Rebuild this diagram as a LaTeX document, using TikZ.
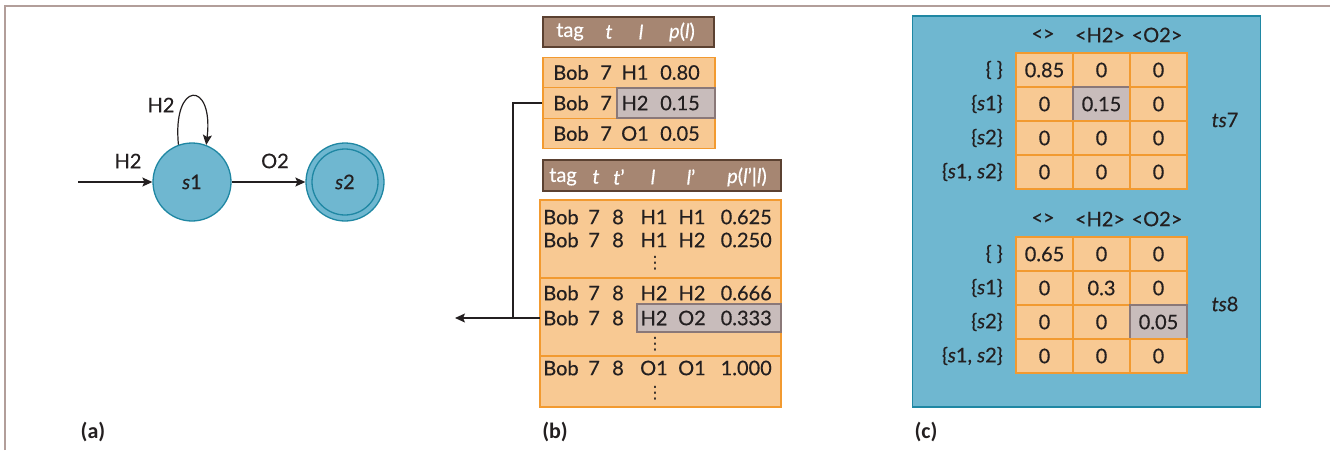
\documentclass[tikz,border=0pt]{standalone}
\usepackage{fontspec}
\setmainfont{Lato}[FakeBold=0.35]
\newfontfamily\labfont{Carlito}
\newfontfamily\dotfont{DejaVu Sans}
\usetikzlibrary{arrows.meta}
\definecolor{stblue}{HTML}{6FB7D0}
\definecolor{stborder}{HTML}{1F87A3}
\definecolor{ofill}{HTML}{F8C993}
\definecolor{oborder}{HTML}{F29A30}
\definecolor{hlfill}{HTML}{C8BCBB}
\definecolor{hlborder}{HTML}{8A7878}
\definecolor{bfill}{HTML}{A68672}
\definecolor{bborder}{HTML}{5B4131}
\definecolor{txt}{HTML}{231F20}
\definecolor{framec}{HTML}{B29E9A}
\begin{document}
\begin{tikzpicture}[x=1pt,y=-1pt,
  every node/.style={text=txt},
  font=\fontsize{20}{22}\selectfont,
  state/.style={circle, minimum size=78pt, inner sep=0pt, fill=stblue, draw=stborder, line width=1.3pt},
  arr/.style={draw=txt, line width=1.2pt, -{Stealth[length=10pt,width=9pt,inset=2pt]}},
  plain/.style={draw=txt, line width=1.2pt},
  hdr/.style={rectangle, fill=bfill, draw=bborder, line width=1.3pt, inner sep=0pt},
  hdrtxt/.style={text=white, inner sep=0pt},
  obox/.style={rectangle, fill=ofill, draw=oborder, line width=1.3pt, inner sep=0pt},
  hlbox/.style={rectangle, fill=hlfill, draw=hlborder, line width=1.3pt, inner sep=0pt},
  bluebox/.style={rectangle, fill=stblue, draw=stborder, line width=1.5pt, inner sep=0pt},
  cell/.style={obox, minimum width=57pt, minimum height=34pt},
  tx/.style={inner sep=0pt},
  vdot/.style={inner sep=0pt, font=\dotfont\fontsize{17}{17}\selectfont},
  sublabel/.style={inner sep=0pt, font=\labfont\bfseries\fontsize{22}{24}\selectfont}
]
\useasboundingbox (0,0) rectangle (1330,450);
% frame
\draw[framec, line width=1.5pt] (5,450) -- (5,6) -- (1330,6);

% ---------- (a) ----------
\node[state] (s1) at (192,182) {\textit{s}1};
\node[state] (s2) at (345,182) {\textit{s}2};
\draw[stborder, line width=1.3pt] (s2.center) circle[radius=33pt];
\coordinate (init) at (78,182);
\draw[arr] (init) -- (s1);
\node[tx] (lh2a) at (128,161) {H2};
\draw[arr] (s1) -- (s2);
\node[tx] (lo2) at (275,161) {O2};
\draw[arr] (s1.110) .. controls (172,80) and (214,80) .. (s1.69);
\node[tx] (lh2b) at (161,105) {H2};
\node[sublabel] (la) at (93,432) {(a)};

% ---------- (b) ----------
\node[hdr, minimum width=171pt, minimum height=30pt] (h1) at (628.5,32) {};
\node[hdrtxt] (h1a) at (570,32) {tag};
\node[hdrtxt] (h1b) at (609,32) {\textit{t}};
\node[hdrtxt] (h1c) at (641,32) {\textit{l}};
\node[hdrtxt] (h1d) at (682,32) {\textit{p}(\textit{l})};

\node[obox, minimum width=172pt, minimum height=30.5pt] (t1r1) at (629,72.5) {};
\node[obox, minimum width=172pt, minimum height=30.5pt] (t1r2) at (629,103) {};
\node[obox, minimum width=172pt, minimum height=30.5pt] (t1r3) at (629,133.5) {};
\node[hlbox, minimum width=98pt, minimum height=30pt] (t1hl) at (666,103) {};
\foreach \y/\l/\p [count=\i] in {72.5/H1/0.80, 103/H2/0.15, 133.5/O1/0.05}{
  \node[tx] (t1b\i) at (571,\y) {Bob};
  \node[tx] (t1t\i) at (606,\y) {7};
  \node[tx] (t1l\i) at (635,\y) {\l};
  \node[tx] (t1p\i) at (680,\y) {\p};
}

\node[hdr, minimum width=238pt, minimum height=31pt] (h2) at (662,175.5) {};
\node[hdrtxt] (h2a) at (563,177) {tag};
\node[hdrtxt] (h2b) at (596,177) {\textit{t}};
\node[hdrtxt] (h2c) at (619,177) {\textit{t}'};
\node[hdrtxt] (h2d) at (653,177) {\textit{l}};
\node[hdrtxt] (h2e) at (691,177) {\textit{l}'};
\node[hdrtxt] (h2f) at (747,177) {\textit{p}(\textit{l}'|\textit{l})};

\node[obox, minimum width=241pt, minimum height=78pt] (t2a) at (660.5,239) {};
\node[obox, minimum width=241pt, minimum height=78pt] (t2b) at (660.5,317) {};
\node[obox, minimum width=241pt, minimum height=51pt] (t2c) at (660.5,381.5) {};
\node[hlbox, minimum width=144pt, minimum height=28pt] (t2hl) at (709,318) {};
\foreach \y/\l/\m/\p [count=\i] in {217/H1/H1/0.625, 240/H1/H2/0.250, 293/H2/H2/0.666, 318/H2/O2/0.333, 368/O1/O1/1.000}{
  \node[tx] (t2b\i) at (561,\y) {Bob};
  \node[tx] (t2t\i) at (594,\y) {7};
  \node[tx] (t2u\i) at (618,\y) {8};
  \node[tx] (t2l\i) at (654,\y) {\l};
  \node[tx] (t2m\i) at (692,\y) {\m};
  \node[tx, anchor=east] (t2p\i) at (772,\y) {\p};
}
\foreach \y [count=\i] in {263,344,393}{
  \node[vdot] (dots\i) at (655,\y) {⋮};
}
\coordinate (j1) at (513,103);
\coordinate (j2) at (513,318);
\coordinate (t2row) at (540,318);
\coordinate (tip) at (455,318);
\draw[plain] (t1r2.west) -- (j1) -- (j2);
\draw[arr] (t2row) -- (tip);
\node[sublabel] (lb) at (555,432) {(b)};

% ---------- (c) ----------
\node[bluebox, minimum width=348pt, minimum height=391pt] (cbox) at (1086.5,211.5) {};
\foreach \top/\ts/\vals/\hr/\hc in {53/7/{0.85,0,0,0,0.15,0,0,0,0,0,0,0}/2/2, 237/8/{0.65,0,0,0,0.3,0,0,0,0.05,0,0,0}/3/3}{
  \node[tx] (hd\ts a) at (1043,\top-18) {<>};
  \node[tx] (hd\ts b) at (1100,\top-18) {<H2>};
  \node[tx] (hd\ts c) at (1157,\top-18) {<O2>};
  \foreach \v [count=\k from 0] in \vals {
    \pgfmathtruncatemacro{\r}{div(\k,3)+1}
    \pgfmathtruncatemacro{\c}{mod(\k,3)+1}
    \ifnum\r=\hr\relax\ifnum\c=\hc\relax
      \node[hlbox, minimum width=57pt, minimum height=34pt] (c\ts-\r-\c) at (1016+57*\c-28.5,\top+34*\r-17) {\v};
    \else
      \node[cell] (c\ts-\r-\c) at (1016+57*\c-28.5,\top+34*\r-17) {\v};
    \fi
    \else
      \node[cell] (c\ts-\r-\c) at (1016+57*\c-28.5,\top+34*\r-17) {\v};
    \fi
  }
  \node[tx, anchor=east] (rl\ts a) at (1003,\top+17) {\{~\}};
  \node[tx, anchor=east] (rl\ts b) at (1003,\top+51) {\{\textit{s}1\}};
  \node[tx, anchor=east] (rl\ts c) at (1003,\top+85) {\{\textit{s}2\}};
  \node[tx, anchor=east] (rl\ts d) at (1003,\top+119) {\{\textit{s}1, \textit{s}2\}};
  \node[tx] (ts\ts) at (1225,\top+67) {\textit{ts}\ts};
}
\node[sublabel] (lc) at (926,432) {(c)};
\end{tikzpicture}
\end{document}
